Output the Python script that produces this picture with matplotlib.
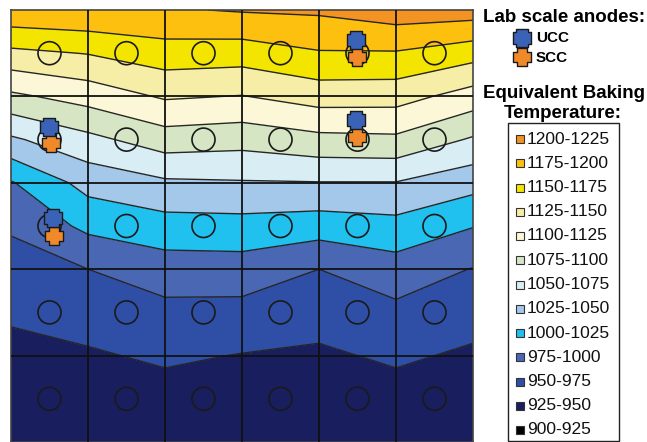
import numpy as np
import matplotlib
matplotlib.use("Agg")
import matplotlib.pyplot as plt
from matplotlib.path import Path
from matplotlib.patches import Rectangle
from matplotlib import font_manager

# ---------------- data ----------------
# column boundaries (x) and half-row depths (y, measured downward from top)
x_nodes = [0, 1, 2, 3, 4, 5, 6]
y_nodes = [0.0, 0.5, 1.0, 1.5, 2.0, 2.5, 3.0, 3.5, 4.0, 4.5, 5.0]

# equivalent baking temperature (°C) at the nodes, rows top -> bottom
temp_rows = [
    [1195, 1198, 1197.5, 1202, 1204, 1214, 1212.5],
    [1144, 1151, 1164, 1162, 1173, 1173, 1160],
    [1095, 1110, 1128, 1124, 1136, 1135, 1114],
    [1046, 1068, 1088, 1084, 1093, 1095, 1072],
    [998, 1034, 1046, 1048, 1049, 1049, 1034],
    [978, 1006, 1015, 1016, 1012, 1017, 1001],
    [965, 975, 988, 989, 975, 989, 974],
    [954, 961, 968, 967, 960, 969, 960],
    [942, 947, 954, 949, 946, 954, 946],
    [934, 937, 940, 938, 935, 940, 935],
    [930, 930, 933, 932, 930, 933, 930],
]

levels = [900, 925, 950, 975, 1000, 1025, 1050, 1075, 1100, 1125, 1150, 1175, 1200, 1225]
level_colors = ["#000000", "#181E5E", "#2F4FA6", "#4A67B4", "#20C0EF", "#A3C8EA",
                "#D9EEF4", "#D6E6C4", "#FCF7D6", "#F6EEA6", "#F3E500", "#FDC00F", "#F39322"]
legend_labels = ["1200-1225", "1175-1200", "1150-1175", "1125-1150", "1100-1125",
                 "1075-1100", "1050-1075", "1025-1050", "1000-1025", "975-1000",
                 "950-975", "925-950", "900-925"]

# circles (sample positions) at cell centres
probe_cols = [0.5, 1.5, 2.5, 3.5, 4.5, 5.5]
probe_rows = [0.5, 1.5, 2.5, 3.5, 4.5]

# lab scale anodes
ucc_x = [4.48, 4.48, 0.49, 0.55]
ucc_y = [0.35, 1.27, 1.35, 2.41]
scc_x = [4.49, 4.49, 0.52, 0.56]
scc_y = [0.54, 1.47, 1.54, 2.62]

# ---------------- fonts ----------------
def has_font(name):
    try:
        font_manager.findfont(font_manager.FontProperties(family=name), fallback_to_default=False)
        return True
    except Exception:
        return False

base_font = "Liberation Sans" if has_font("Liberation Sans") else "DejaVu Sans"
narrow = has_font("Liberation Sans Narrow")
head_font = "Liberation Sans Narrow" if narrow else base_font
head_size = 16 if narrow else 13.5

# ---------------- markers ----------------
def plus_path(a):
    v = [(-a, 1), (a, 1), (a, a), (1, a), (1, -a), (a, -a), (a, -1), (-a, -1),
         (-a, -a), (-1, -a), (-1, a), (-a, a), (-a, 1)]
    codes = [Path.MOVETO] + [Path.LINETO] * (len(v) - 2) + [Path.CLOSEPOLY]
    return Path(v, codes)

ucc_marker = plus_path(0.62)
scc_marker = plus_path(0.5)
ucc_color = "#3A63B8"
scc_color = "#F0892A"

# ---------------- figure ----------------
W, H = 647, 442
fig = plt.figure(figsize=(W / 100, H / 100), dpi=100)
fig.patch.set_facecolor("white")

ax = fig.add_axes([11 / W, 0 / H, 462 / W, 432 / H])
X, Y = np.meshgrid(x_nodes, y_nodes)
T = np.array(temp_rows, dtype=float)
ax.contourf(X, Y, T, levels=levels, colors=level_colors)
ax.contour(X, Y, T, levels=levels[1:-1], colors="#262626", linewidths=1.0)

for xv in x_nodes[1:-1]:
    ax.axvline(xv, color="#111111", lw=1.3, zorder=3)
for yv in [1, 2, 3, 4]:
    ax.axhline(yv, color="#111111", lw=1.3, zorder=3)

px, py = np.meshgrid(probe_cols, probe_rows)
ax.scatter(px.ravel(), py.ravel(), s=275, facecolors="none", edgecolors="#1a1a1a",
           linewidths=1.2, zorder=4)

ax.plot(ucc_x, ucc_y, linestyle="none", marker=ucc_marker, markersize=13,
        markerfacecolor=ucc_color, markeredgecolor="#1a1a1a", markeredgewidth=1.0, zorder=6)
ax.plot(scc_x, scc_y, linestyle="none", marker=scc_marker, markersize=13,
        markerfacecolor=scc_color, markeredgecolor="#1a1a1a", markeredgewidth=1.0, zorder=5)

ax.set_xlim(0, 6)
ax.set_ylim(5, 0)
ax.set_xticks([])
ax.set_yticks([])
for sp in ax.spines.values():
    sp.set_color("#444444")
    sp.set_linewidth(1.2)

# ---------------- legend (pixel overlay) ----------------
lg = fig.add_axes([0, 0, 1, 1], facecolor="none")
lg.set_xlim(0, W)
lg.set_ylim(H, 0)
lg.axis("off")

lg.text(564, 18, "Lab scale anodes:", ha="center", va="center", fontsize=head_size,
        fontweight="bold", family=[head_font, "DejaVu Sans"])
lg.plot([522], [38], linestyle="none", marker=ucc_marker, markersize=13,
        markerfacecolor=ucc_color, markeredgecolor="#1a1a1a", markeredgewidth=1.0)
lg.plot([522], [57], linestyle="none", marker=scc_marker, markersize=13,
        markerfacecolor=scc_color, markeredgecolor="#1a1a1a", markeredgewidth=1.0)
lg.text(536, 38, "UCC", ha="left", va="center", fontsize=11, fontweight="bold",
        family=[base_font, "DejaVu Sans"])
lg.text(536, 58, "SCC", ha="left", va="center", fontsize=11, fontweight="bold",
        family=[base_font, "DejaVu Sans"])

lg.text(564, 93, "Equivalent Baking", ha="center", va="center", fontsize=head_size,
        fontweight="bold", family=[head_font, "DejaVu Sans"])
lg.text(563, 113, "Temperature:", ha="center", va="center", fontsize=head_size,
        fontweight="bold", family=[head_font, "DejaVu Sans"])

lg.add_patch(Rectangle((508, 123), 111, 318, facecolor="white", edgecolor="#222222", lw=1.0))
legend_cols = level_colors[::-1]
for i, (lab, col) in enumerate(zip(legend_labels, legend_cols)):
    yy = 139 + i * 24.25
    lg.add_patch(Rectangle((516, yy - 4), 8, 8, facecolor=col, edgecolor="#333333", lw=0.8))
    lg.text(527, yy, lab, ha="left", va="center", fontsize=12.5,
            family=[base_font, "DejaVu Sans"], color="#111111")

fig.savefig("out.png", dpi=100)
